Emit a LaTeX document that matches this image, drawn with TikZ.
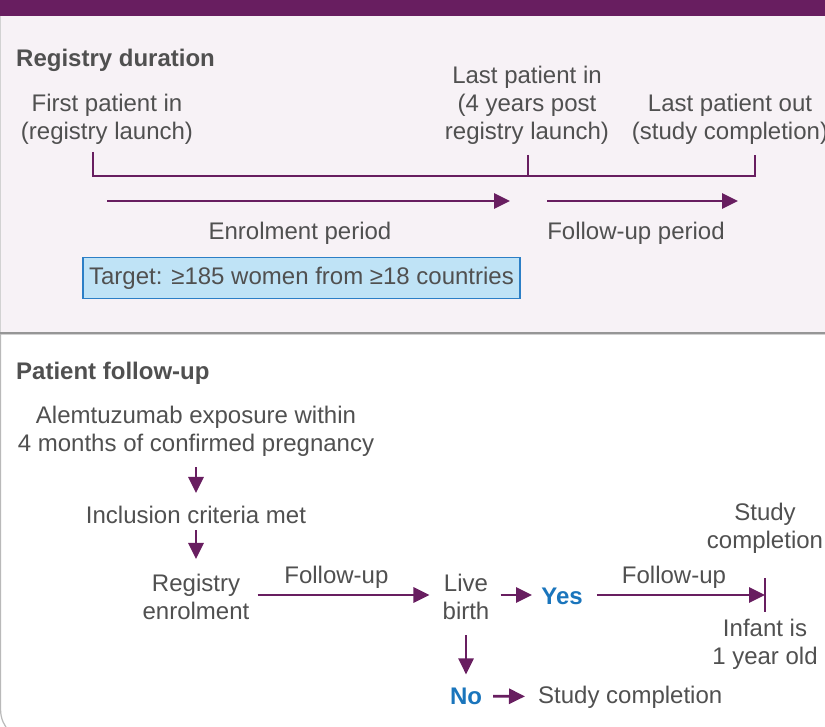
\documentclass[tikz,border=0pt]{standalone}
\usepackage{fontspec}
\setmainfont{Liberation Sans}
\usetikzlibrary{arrows.meta}
\definecolor{regpurple}{RGB}{104,30,96}
\definecolor{panelbg}{RGB}{247,242,246}
\definecolor{txtgray}{RGB}{80,80,80}
\definecolor{ansblue}{RGB}{26,117,188}
\definecolor{boxblue}{RGB}{191,227,246}
\definecolor{boxedge}{RGB}{44,127,198}
\definecolor{sepgray}{RGB}{150,150,150}
\begin{document}
\begin{tikzpicture}[x=1pt,y=-1pt,
  lbl/.style={text=txtgray,font=\fontsize{24}{28}\selectfont,align=center,inner sep=0pt,yshift=-2pt},
  head/.style={lbl,font=\fontsize{24}{28}\selectfont\bfseries,anchor=west},
  ans/.style={lbl,text=ansblue,font=\fontsize{24}{28}\selectfont\bfseries},
  flow/.style={draw=regpurple,line width=2.8pt,-{Triangle[length=16pt,width=15pt]}},
  bracket/.style={draw=regpurple,line width=2.8pt}]
  \useasboundingbox (0,0) rectangle (825,727);
  \clip (0,0) rectangle (825,727);
  % Header bar and panels
  \fill[regpurple] (0,0) rectangle (825,16);
  \fill[panelbg] (0,16) rectangle (825,333);
  \draw[gray!35,line width=1.2pt] (0.6,16) -- (0.6,333);
  \filldraw[fill=white,draw=gray!55,line width=1.2pt]
    (900,334) -- (0.6,334) [rounded corners=30pt] -- (0.6,740) -- (900,740);
  \draw[sepgray,line width=2.5pt] (0,333) -- (825,333);
  % Registry duration
  \node[head] (regdur) at (16,58) {Registry duration};
  \node[lbl] (first) at (107,117) {First patient in\\(registry launch)};
  \node[lbl] (lastin) at (527,103) {Last patient in\\(4 years post\\registry launch)};
  \node[lbl] (lastout) at (730,117) {Last patient out\\(study completion)};
  % Time line bracket
  \coordinate (tstart) at (93,152);
  \coordinate (tmid) at (528,155);
  \coordinate (tend) at (755,155);
  \coordinate (tbase) at (0,176);
  \draw[bracket] (tstart) |- (tend |- tbase) -- (tend);
  \draw[bracket] (tmid) -- (tmid |- tbase);
  % Period arrows
  \coordinate (enrA) at (107,201);
  \coordinate (enrB) at (510,201);
  \coordinate (fupA) at (547,201);
  \coordinate (fupB) at (738,201);
  \draw[flow] (enrA) -- (enrB);
  \draw[flow] (fupA) -- (fupB);
  \node[lbl] (enrol) at (300,231) {Enrolment period};
  \node[lbl] (fup) at (636,231) {Follow-up period};
  \node[lbl,fill=boxblue,draw=boxedge,line width=1.5pt,yshift=2pt,
        minimum width=437pt,minimum height=41pt] (target) at (301.5,278)
        {Target: ≥185 women from ≥18 countries};
  % Patient follow-up
  \node[head] (patfu) at (16,371) {Patient follow-up};
  \node[lbl] (expo) at (196,429) {Alemtuzumab exposure within\\4 months of confirmed pregnancy};
  \node[lbl] (incl) at (196,513) {Inclusion criteria met};
  \node[lbl] (enrl) at (196,595) {Registry\\enrolment};
  \node[lbl] (live) at (466,595) {Live\\birth};
  \node[ans] (yes) at (562,594) {Yes};
  \coordinate (fl) at (0,595);
  \coordinate (infend) at (765,595);
  \node[lbl] (studyA) at (765,526) {Study\\completion};
  \node[lbl] (infant) at (765,642) {Infant is\\1 year old};
  \node[ans] (no) at (466,694) {No};
  \node[lbl,anchor=west] (studyB) at (538,695) {Study completion};
  % Flow arrows
  \draw[flow,shorten <=11pt,shorten >=13pt] (expo) -- (incl);
  \draw[flow,shorten <=6pt,shorten >=15pt] (incl) -- (enrl);
  \draw[flow,shorten <=8pt,shorten >=13pt] (enrl.east |- fl) -- (live.west |- fl)
    node[lbl,above=7pt,pos=0.45] (fulab1) {Follow-up};
  \draw[flow,shorten <=11pt,shorten >=9pt] (live.east |- fl) -- (yes.west |- fl);
  \draw[flow,shorten <=14pt] (yes.east |- fl) -- (infend)
    node[lbl,above=7pt,midway] (fulab2) {Follow-up};
  \draw[bracket] ([yshift=17pt]infend) -- ([yshift=-17pt]infend);
  \draw[flow,shorten <=15pt,shorten >=13pt] (live) -- (no);
  \draw[flow,shorten <=11pt,shorten >=13pt] (no) -- (studyB);
\end{tikzpicture}
\end{document}
